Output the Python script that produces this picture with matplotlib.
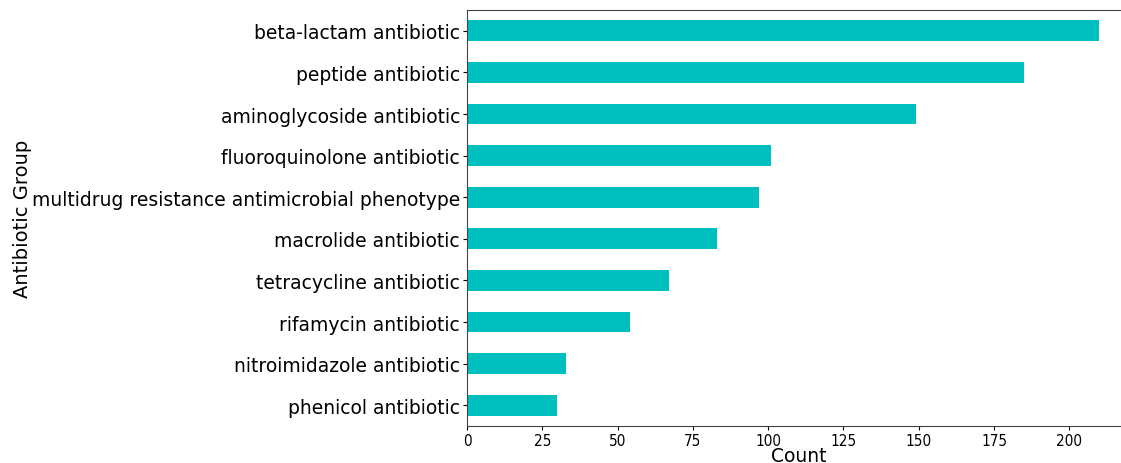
import matplotlib
matplotlib.use('Agg')
import matplotlib.pyplot as plt
import numpy as np

# antibiotic groups and counts, top to bottom
groups = ['beta-lactam antibiotic', 'peptide antibiotic', 'aminoglycoside antibiotic',
          'fluoroquinolone antibiotic', 'multidrug resistance antimicrobial phenotype',
          'macrolide antibiotic', 'tetracycline antibiotic', 'rifamycin antibiotic',
          'nitroimidazole antibiotic', 'phenicol antibiotic']
counts = [210, 185, 149, 101, 97, 83, 67, 54, 33, 30]
xticks = [0, 25, 50, 75, 100, 125, 150, 175, 200]

fig = plt.figure(figsize=(11.21, 4.64), dpi=100)
ax = fig.add_axes([0.4166, 0.0797, 0.5924, 0.8966])

# reverse so the biggest sits at the top
ypos = np.arange(len(groups))
ax.barh(ypos, counts[::-1], height=0.5, color='c')
ax.set_yticks(ypos)
ax.set_yticklabels(groups[::-1], fontsize=13.5)
ax.set_ylim(-0.5, len(groups) - 0.5)
ax.set_xlim(0, 220.5)
ax.set_xticks(xticks)
ax.set_xticklabels([str(t) for t in xticks], fontsize=11, fontstretch='condensed')
ax.tick_params(length=3, pad=2)
for s in ax.spines.values():
    s.set_color('#444444')
ax.set_xlabel('Count', fontsize=13.5, va='top')
ax.xaxis.set_label_coords(0.5, -0.047)
ax.set_ylabel('Antibiotic Group', fontsize=14, labelpad=0)

fig.savefig('out.png', dpi=100)
